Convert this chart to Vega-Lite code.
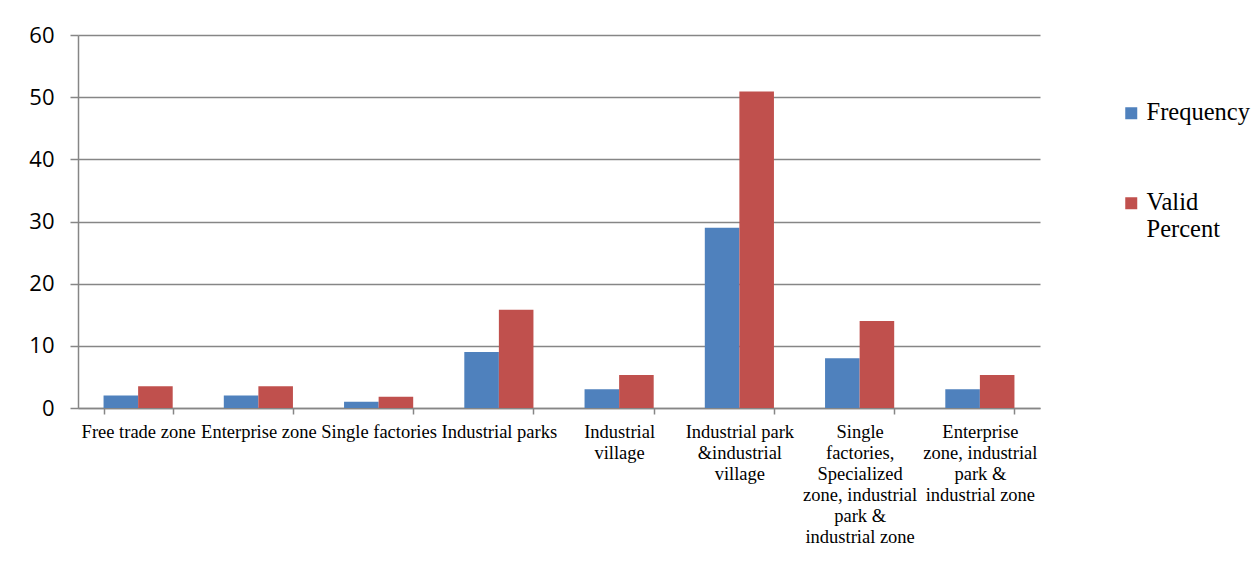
{
  "$schema": "https://vega.github.io/schema/vega-lite/v6.json",
  "width": 962,
  "height": 373,
  "autosize": {"type": "none"},
  "padding": {"left": 78, "top": 35, "right": 215, "bottom": 153},
  "background": "white",
  "config": {"view": {"stroke": null}},
  "data": {
    "values": [
      {"category": "Free trade zone", "series": "Frequency", "value": 2},
      {"category": "Free trade zone", "series": "Valid Percent", "value": 3.5},
      {"category": "Enterprise zone", "series": "Frequency", "value": 2},
      {"category": "Enterprise zone", "series": "Valid Percent", "value": 3.5},
      {"category": "Single factories", "series": "Frequency", "value": 1},
      {"category": "Single factories", "series": "Valid Percent", "value": 1.8},
      {"category": "Industrial parks", "series": "Frequency", "value": 9},
      {"category": "Industrial parks", "series": "Valid Percent", "value": 15.8},
      {"category": "Industrial village", "series": "Frequency", "value": 3},
      {"category": "Industrial village", "series": "Valid Percent", "value": 5.3},
      {"category": "Industrial park &industrial village", "series": "Frequency", "value": 29},
      {"category": "Industrial park &industrial village", "series": "Valid Percent", "value": 50.9},
      {"category": "Single factories, Specialized zone, industrial park & industrial zone", "series": "Frequency", "value": 8},
      {"category": "Single factories, Specialized zone, industrial park & industrial zone", "series": "Valid Percent", "value": 14.0},
      {"category": "Enterprise zone, industrial park & industrial zone", "series": "Frequency", "value": 3},
      {"category": "Enterprise zone, industrial park & industrial zone", "series": "Valid Percent", "value": 5.3}
    ]
  },
  "mark": {"type": "bar"},
  "encoding": {
    "x": {
      "field": "category",
      "type": "nominal",
      "sort": null,
      "scale": {"paddingInner": 0.425, "paddingOuter": 0.2125},
      "axis": {
        "title": null,
        "labelAngle": 0,
        "labelFont": "Liberation Serif",
        "labelFontSize": 18.5,
        "labelColor": "#000000",
        "labelLineHeight": 21,
        "labelOverlap": false,
        "labelLimit": 200,
        "labelPadding": 8,
        "labelBaseline": "top",
        "tickBand": "extent",
        "tickSize": 6,
        "tickColor": "#868686",
        "tickWidth": 1.5,
        "domainColor": "#868686",
        "domainWidth": 1.5,
        "grid": false,
        "labelExpr": "datum.label == 'Industrial village' ? ['Industrial', 'village'] : datum.label == 'Industrial park &industrial village' ? ['Industrial park', '&industrial', 'village'] : datum.label == 'Single factories, Specialized zone, industrial park & industrial zone' ? ['Single', 'factories,', 'Specialized', 'zone, industrial', 'park &', 'industrial zone'] : datum.label == 'Enterprise zone, industrial park & industrial zone' ? ['Enterprise', 'zone, industrial', 'park &', 'industrial zone'] : datum.label"
      }
    },
    "xOffset": {"field": "series", "type": "nominal", "scale": {"paddingInner": 0, "paddingOuter": 0}},
    "y": {
      "field": "value",
      "type": "quantitative",
      "scale": {"domain": [0, 60], "nice": false},
      "axis": {
        "title": null,
        "values": [0, 10, 20, 30, 40, 50, 60],
        "labelFont": "Open Sans",
        "labelFontSize": 22,
        "labelColor": "#000000",
        "labelPadding": 16,
        "tickSize": 8,
        "tickColor": "#868686",
        "tickWidth": 1.5,
        "domainColor": "#868686",
        "domainWidth": 1.5,
        "gridColor": "#868686",
        "gridWidth": 1.5
      }
    },
    "color": {
      "field": "series",
      "type": "nominal",
      "scale": {"domain": ["Frequency", "Valid Percent"], "range": ["#4F81BD", "#C0504D"]},
      "legend": {
        "title": null,
        "orient": "none",
        "legendX": 1041,
        "legendY": 66,
        "symbolType": "square",
        "symbolSize": 144,
        "symbolStrokeWidth": 0,
        "labelFont": "Liberation Serif",
        "labelFontSize": 24.5,
        "labelColor": "#000000",
        "labelLineHeight": 27,
        "labelOffset": 3,
        "rowPadding": 65,
        "labelLimit": 200,
        "labelExpr": "datum.label == 'Valid Percent' ? ['Valid', 'Percent'] : datum.label"
      }
    }
  }
}
